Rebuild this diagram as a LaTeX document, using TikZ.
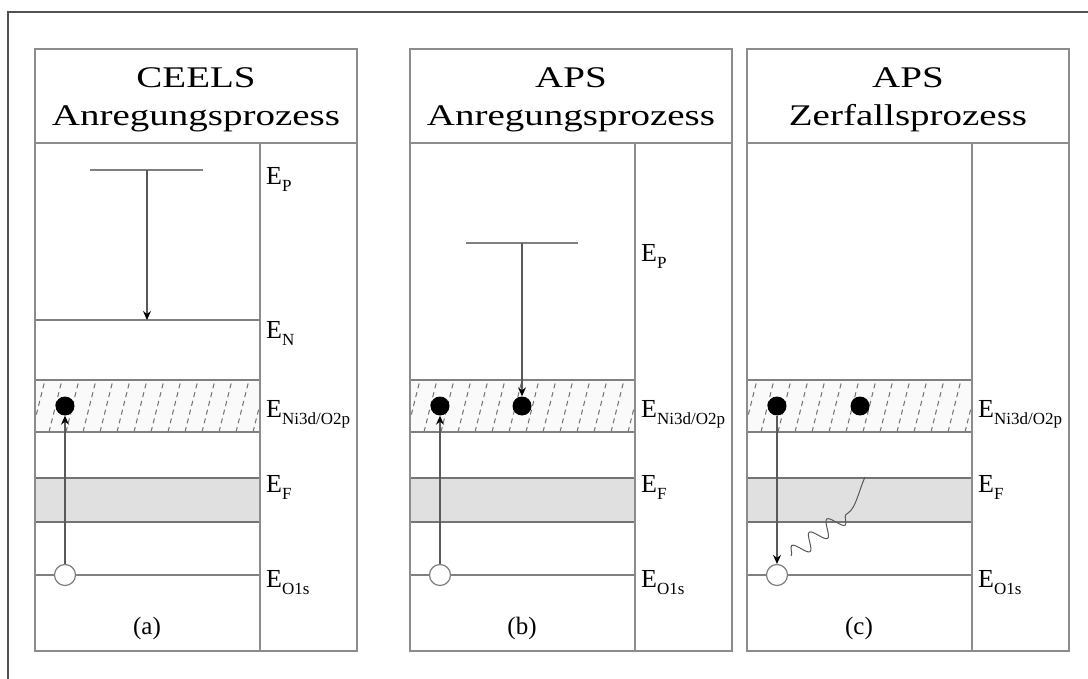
\documentclass[tikz,border=0pt]{standalone}
\usepackage{fontspec}
\setmainfont{Liberation Serif}
\usepackage{graphicx}
\usetikzlibrary{arrows.meta,decorations.pathmorphing}

% energy label: E with a lowered subscript
\newcommand{\lvl}[1]{E\raisebox{-7pt}{\fontsize{17}{17}\selectfont #1}}
% wide title text
\newcommand{\wide}[1]{\scalebox{1.3}[1]{#1}}

\tikzset{
  frame/.style={draw=black!68, line width=2pt},
  boxline/.style={draw=black!45, line width=1.3pt},
  level/.style={draw=black!50, line width=1.2pt},
  hatchline/.style={draw=black!55, line width=1pt, dash pattern=on 5pt off 4pt},
  hatchbg/.style={fill=black!2},
  bandfill/.style={fill=black!12, draw=black!55, line width=1.2pt},
  titletext/.style={font=\fontsize{30}{34}\selectfont, anchor=base, inner sep=0pt},
  labtext/.style={font=\fontsize{26}{30}\selectfont, anchor=base west, inner sep=0pt},
  plabtext/.style={font=\fontsize{25}{30}\selectfont, inner sep=0pt},
  electron/.style={circle, fill=black, inner sep=0pt, minimum size=19pt},
  hole/.style={circle, draw=black!50, line width=1.2pt, fill=white, inner sep=0pt, minimum size=21pt},
  arr/.style={draw=black!65, line width=1.1pt, -{Stealth[length=9pt, width=8pt, inset=3pt, black]}},
  photon/.style={draw=black!65, line width=1pt, decorate,
    decoration={snake, amplitude=8pt, segment length=22pt}},
}

% common frame of one panel: title box, bands, O1s level and labels
\newcommand{\panelframe}[4]{%
  % hatched Ni3d/O2p band
  \fill[hatchbg] (0,380) rectangle (225,432);
  \begin{scope}
    \clip (0,380) rectangle (225,432);
    \foreach \hx in {-20,-3,...,240} \draw[hatchline] (\hx,432) -- (\hx+13,380);
  \end{scope}
  \draw[level] (0,380) -- (225,380);
  \draw[level] (0,432) -- (225,432);
  % Fermi band
  \filldraw[bandfill] (0,478) rectangle (225,522);
  % O1s level
  \draw[level] (0,575) -- (225,575);
  % boxes
  \draw[boxline] (0,49) rectangle (322,651);
  \draw[boxline] (0,143) -- (322,143);
  \draw[boxline] (225,143) -- (225,651);
  % titles
  \node[titletext] (#1-t1) at (161,88) {\wide{#2}};
  \node[titletext] (#1-t2) at (161,126) {\wide{#3}};
  % level labels
  \node[labtext] (#1-lni) at (231,417) {\lvl{Ni3d/O2p}};
  \node[labtext] (#1-lf) at (231,492) {\lvl{F}};
  \node[labtext] (#1-lo) at (231,587) {\lvl{O1s}};
  % panel letter
  \node[plabtext] (#1-letter) at (112,628) {#4};
}

\begin{document}
\begin{tikzpicture}[x=1pt, y=-1pt]
\useasboundingbox (0,0) rectangle (1088,679);
\fill[white] (0,0) rectangle (1088,679);

% outer frame
\draw[frame] (8,681) -- (8,12) -- (1090,12);

% (a) CEELS excitation
\begin{scope}[xshift=35pt]
  \panelframe{a}{CEELS}{Anregungsprozess}{(a)}
  \node[labtext] (a-lp) at (231,185) {\lvl{P}};
  \draw[level] (0,320) -- (225,320);
  \node[labtext] (a-ln) at (231,338) {\lvl{N}};
  \coordinate (a-p1) at (55,170);
  \coordinate (a-p2) at (168,170);
  \coordinate (a-ps) at (112,170);
  \coordinate (a-n) at (112,320);
  \draw[level] (a-p1) -- (a-p2);
  \draw[arr] (a-ps) -- (a-n);
  \node[hole] (a-h) at (30,575) {};
  \node[electron] (a-e1) at (30,406) {};
  \draw[arr] (a-h) -- (a-e1);
\end{scope}

% (b) APS excitation
\begin{scope}[xshift=410pt]
  \panelframe{b}{APS}{Anregungsprozess}{(b)}
  \node[labtext] (b-lp) at (231,262) {\lvl{P}};
  \coordinate (b-p1) at (56,243);
  \coordinate (b-p2) at (168,243);
  \coordinate (b-ps) at (112,243);
  \draw[level] (b-p1) -- (b-p2);
  \node[hole] (b-h) at (30,575) {};
  \node[electron] (b-e1) at (30,406) {};
  \node[electron] (b-e2) at (112,406) {};
  \draw[arr] (b-h) -- (b-e1);
  \draw[arr] (b-ps) -- (b-e2);
\end{scope}

% (c) APS decay
\begin{scope}[xshift=747pt]
  \panelframe{c}{APS}{Zerfallsprozess}{(c)}
  \node[hole] (c-h) at (30,575) {};
  \node[electron] (c-e1) at (30,406) {};
  \node[electron] (c-e2) at (113,406) {};
  \draw[arr] (c-e1) -- (c-h);
  \coordinate (c-w1) at (44,556);
  \coordinate (c-w2) at (101,513);
  \coordinate (c-w3) at (118,477);
  \draw[photon] (c-w1) -- (c-w2);
  \draw[draw=black!65, line width=1pt] (c-w2) .. controls (109,508) and (112,490) .. (c-w3);
\end{scope}
\end{tikzpicture}
\end{document}
